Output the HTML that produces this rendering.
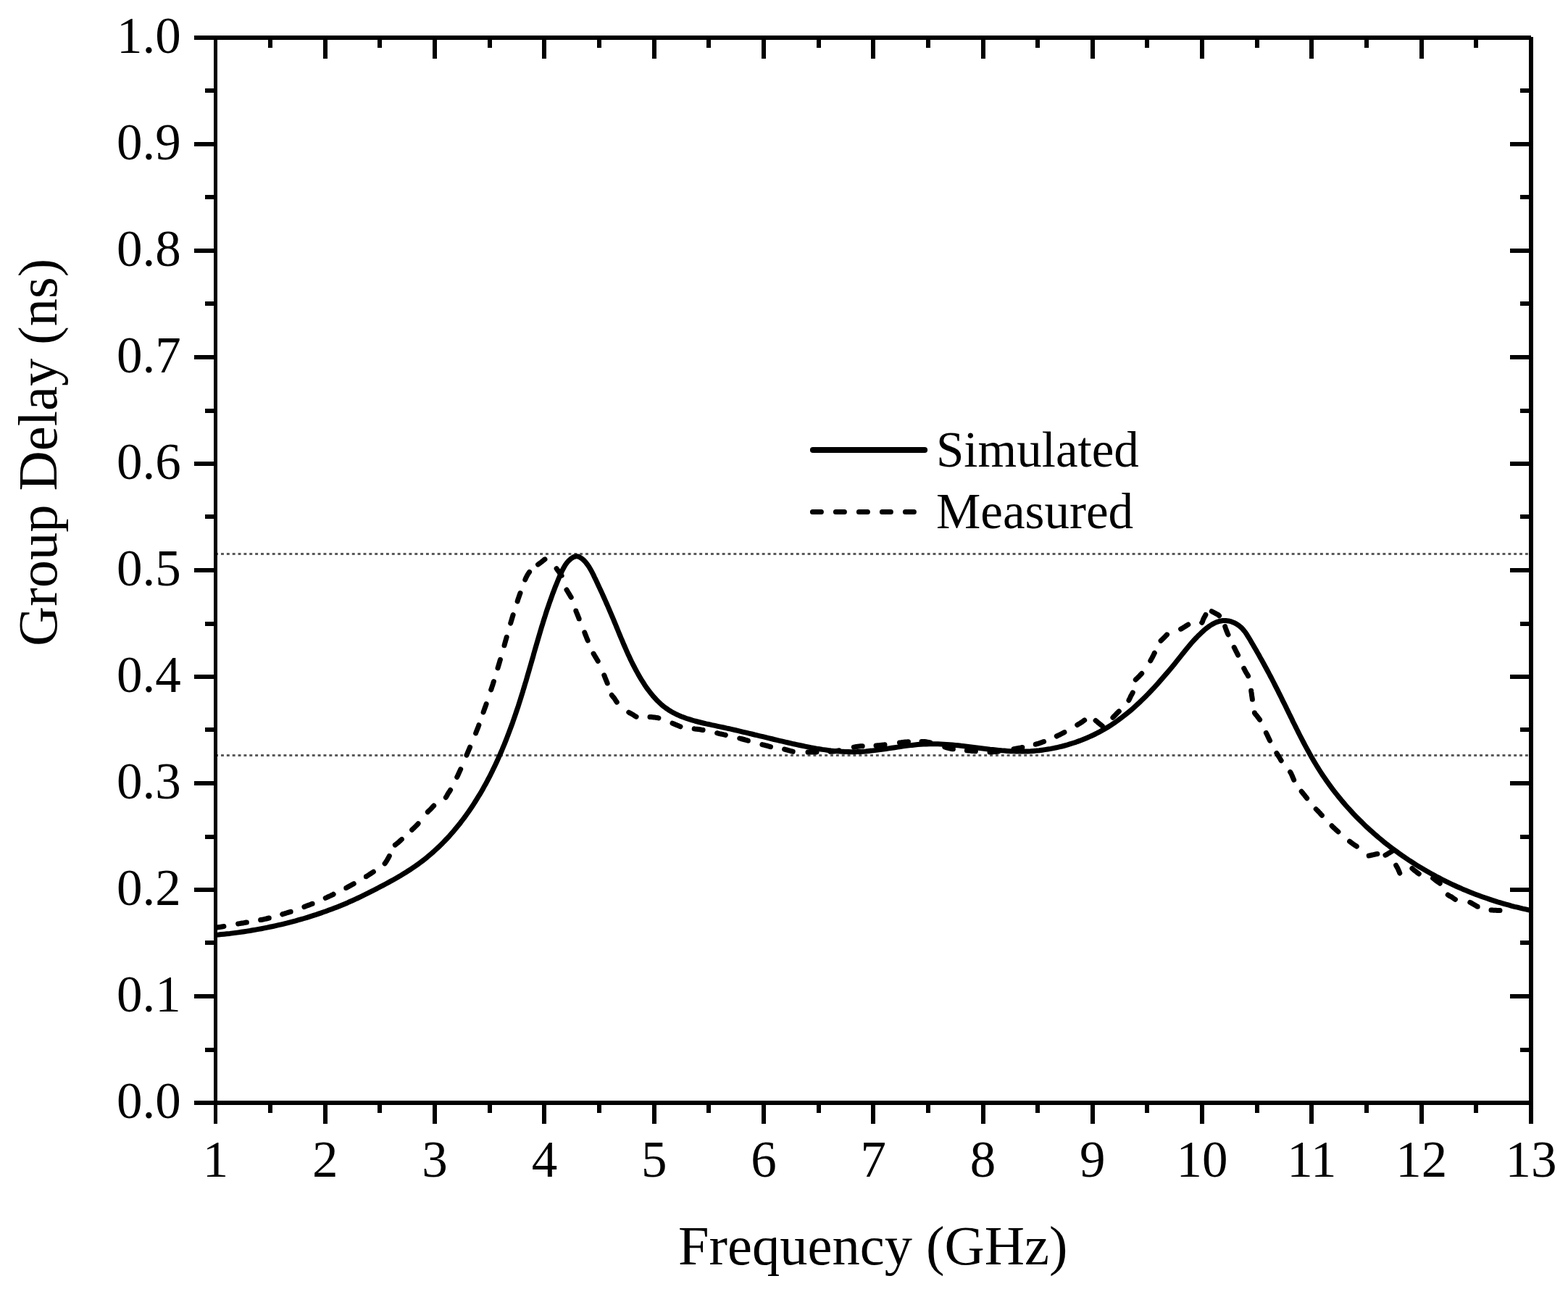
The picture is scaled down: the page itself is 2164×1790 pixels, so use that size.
<!DOCTYPE html><html><head><meta charset="utf-8"><title>Group Delay vs Frequency</title>
<style>html,body{margin:0;padding:0;background:#fff;overflow:hidden;width:2164px;height:1790px;}svg{display:block;}text{font-family:"Liberation Serif","Times New Roman",Times,serif;fill:#000;}</style></head><body>
<svg width="2164" height="1790" viewBox="0 0 2164 1790">
<rect x="0" y="0" width="2164" height="1790" fill="#fff"/>
<line x1="297.14" y1="764.5" x2="2110" y2="764.5" stroke="#5a5a5a" stroke-width="3" stroke-dasharray="3.93 3.93"/>
<line x1="297.14" y1="1042.5" x2="2110" y2="1042.5" stroke="#5a5a5a" stroke-width="3" stroke-dasharray="3.93 3.93"/>
<defs><clipPath id="pc"><rect x="295" y="55" width="1821" height="1464"/></clipPath></defs><g clip-path="url(#pc)">
<path d="M297.7 1290.3L301.6 1290.0 305.5 1289.6 309.4 1289.2 313.3 1288.8 317.2 1288.4 321.2 1287.9 325.1 1287.4 329.0 1286.9 333.0 1286.3 337.0 1285.7 340.9 1285.1 344.9 1284.5 348.8 1283.8 352.8 1283.1 356.8 1282.4 360.7 1281.7 364.7 1280.9 368.7 1280.1 372.6 1279.3 376.6 1278.5 380.5 1277.6 384.5 1276.7 388.4 1275.8 392.4 1274.8 396.3 1273.9 400.2 1272.8 404.1 1271.8 408.0 1270.8 411.9 1269.7 415.8 1268.6 419.7 1267.5 423.6 1266.3 427.4 1265.1 431.2 1263.9 435.1 1262.7 438.9 1261.4 442.7 1260.1 446.4 1258.8 450.2 1257.5 453.9 1256.1 457.7 1254.7 461.4 1253.3 465.0 1251.9 468.7 1250.4 472.3 1248.9 476.0 1247.4 479.6 1245.9 483.1 1244.3 486.7 1242.7 490.2 1241.1 493.7 1239.5 497.2 1237.8 500.7 1236.1 504.2 1234.4 507.7 1232.7 511.2 1230.9 514.7 1229.1 518.2 1227.4 521.7 1225.5 525.2 1223.7 528.7 1221.9 532.2 1220.0 535.7 1218.1 539.2 1216.2 542.8 1214.2 546.3 1212.2 549.7 1210.2 553.2 1208.2 556.7 1206.1 560.1 1204.0 563.5 1201.8 566.8 1199.7 570.2 1197.4 573.5 1195.2 576.7 1192.9 579.9 1190.5 583.1 1188.1 586.2 1185.7 589.3 1183.2 592.3 1180.6 595.3 1178.1 598.3 1175.5 601.2 1172.8 604.1 1170.1 606.9 1167.4 609.7 1164.7 612.5 1161.9 615.2 1159.0 617.9 1156.2 620.6 1153.3 623.2 1150.3 625.8 1147.4 628.3 1144.3 630.8 1141.3 633.3 1138.2 635.7 1135.2 638.1 1132.0 640.5 1128.9 642.8 1125.7 645.1 1122.5 647.4 1119.2 649.6 1116.0 651.8 1112.7 654.0 1109.3 656.1 1106.0 658.2 1102.6 660.3 1099.2 662.4 1095.8 664.4 1092.4 666.4 1088.9 668.3 1085.4 670.3 1081.9 672.2 1078.4 674.0 1074.9 675.9 1071.3 677.7 1067.7 679.5 1064.1 681.2 1060.5 683.0 1056.9 684.7 1053.2 686.4 1049.6 688.0 1045.9 689.7 1042.2 691.3 1038.5 692.9 1034.8 694.4 1031.1 696.0 1027.4 697.5 1023.6 699.0 1019.9 700.4 1016.1 701.9 1012.3 703.3 1008.6 704.7 1004.8 706.1 1001.0 707.5 997.2 708.8 993.4 710.1 989.6 711.4 985.8 712.7 982.0 714.0 978.1 715.3 974.3 716.5 970.5 717.7 966.7 718.9 962.9 720.1 959.0 721.3 955.2 722.4 951.4 723.6 947.6 724.7 943.8 725.9 940.0 727.0 936.1 728.1 932.3 729.2 928.5 730.3 924.7 731.4 920.9 732.5 917.1 733.6 913.3 734.7 909.5 735.8 905.7 736.8 901.9 737.9 898.1 739.0 894.3 740.1 890.6 741.2 886.8 742.3 883.0 743.4 879.3 744.5 875.5 745.6 871.8 746.7 868.1 747.8 864.3 749.0 860.6 750.1 856.9 751.3 853.2 752.5 849.5 753.6 845.8 754.8 842.2 756.1 838.5 757.3 834.8 758.6 831.1 759.9 827.5 761.2 823.8 762.5 820.1 763.9 816.5 765.3 812.8 766.7 809.1 768.2 805.5 769.7 801.8 771.2 798.1 772.8 794.4 774.4 790.7 776.1 787.1 778.0 783.5 780.0 780.0 782.3 776.8 784.9 773.8 787.9 771.2 791.3 768.9 795.0 767.6 798.8 768.3 802.4 770.4 805.5 773.0 808.2 775.9 810.6 779.0 812.9 782.3 814.9 785.7 816.8 789.2 818.7 792.8 820.4 796.5 822.2 800.1 823.9 803.8 825.6 807.4 827.3 811.1 829.0 814.7 830.7 818.4 832.3 822.0 834.0 825.7 835.6 829.3 837.2 833.0 838.8 836.6 840.4 840.3 841.9 843.9 843.5 847.6 845.0 851.2 846.6 854.9 848.1 858.6 849.6 862.2 851.1 865.9 852.6 869.5 854.1 873.2 855.6 876.9 857.1 880.5 858.7 884.2 860.2 887.8 861.8 891.5 863.4 895.1 865.0 898.8 866.6 902.4 868.3 906.0 870.0 909.7 871.7 913.3 873.5 916.9 875.4 920.5 877.2 924.0 879.2 927.6 881.2 931.2 883.2 934.7 885.3 938.2 887.5 941.7 889.7 945.2 892.0 948.6 894.4 951.9 896.9 955.1 899.4 958.3 902.0 961.4 904.7 964.4 907.4 967.3 910.3 970.0 913.2 972.7 916.3 975.2 919.4 977.5 922.6 979.7 925.9 981.8 929.3 983.7 932.8 985.5 936.3 987.1 940.0 988.7 943.6 990.1 947.4 991.5 951.2 992.7 955.0 993.9 958.9 995.0 962.8 996.0 966.7 997.0 970.7 998.0 974.6 998.9 978.6 999.7 982.6 1000.6 986.6 1001.4 990.6 1002.3 994.5 1003.1 998.5 1004.0 1002.4 1004.9 1006.4 1005.7 1010.3 1006.6 1014.2 1007.5 1018.1 1008.4 1022.0 1009.3 1025.9 1010.3 1029.7 1011.2 1033.6 1012.1 1037.5 1013.0 1041.3 1014.0 1045.2 1014.9 1049.0 1015.8 1052.9 1016.7 1056.8 1017.7 1060.6 1018.6 1064.5 1019.5 1068.3 1020.5 1072.2 1021.4 1076.1 1022.3 1079.9 1023.2 1083.8 1024.1 1087.7 1025.0 1091.6 1025.9 1095.5 1026.8 1099.4 1027.6 1103.4 1028.5 1107.3 1029.3 1111.2 1030.1 1115.2 1030.9 1119.1 1031.7 1123.1 1032.4 1127.0 1033.1 1131.0 1033.7 1135.0 1034.4 1139.0 1034.9 1142.9 1035.5 1146.9 1036.0 1150.9 1036.4 1154.9 1036.8 1158.9 1037.1 1162.9 1037.3 1166.9 1037.5 1170.9 1037.6 1174.9 1037.7 1178.9 1037.7 1182.8 1037.6 1186.8 1037.4 1190.8 1037.2 1194.8 1036.9 1198.8 1036.5 1202.8 1036.1 1206.8 1035.6 1210.8 1035.1 1214.8 1034.6 1218.7 1034.0 1222.7 1033.5 1226.7 1032.9 1230.7 1032.3 1234.7 1031.7 1238.7 1031.1 1242.6 1030.5 1246.6 1029.9 1250.6 1029.4 1254.6 1028.9 1258.6 1028.4 1262.6 1028.0 1266.5 1027.6 1270.5 1027.3 1274.5 1027.0 1278.5 1026.9 1282.5 1026.7 1286.5 1026.7 1290.5 1026.7 1294.5 1026.8 1298.4 1027.0 1302.4 1027.2 1306.4 1027.4 1310.4 1027.7 1314.4 1028.0 1318.4 1028.4 1322.4 1028.8 1326.4 1029.3 1330.4 1029.7 1334.4 1030.2 1338.3 1030.7 1342.3 1031.2 1346.3 1031.7 1350.3 1032.2 1354.3 1032.7 1358.3 1033.2 1362.3 1033.7 1366.3 1034.2 1370.3 1034.6 1374.3 1035.0 1378.3 1035.4 1382.3 1035.8 1386.3 1036.1 1390.3 1036.4 1394.3 1036.7 1398.3 1036.8 1402.2 1037.0 1406.2 1037.0 1410.2 1037.1 1414.2 1037.0 1418.2 1036.9 1422.2 1036.7 1426.2 1036.4 1430.2 1036.1 1434.2 1035.7 1438.1 1035.2 1442.1 1034.6 1446.1 1034.0 1450.0 1033.4 1453.9 1032.6 1457.9 1031.8 1461.8 1030.9 1465.7 1030.0 1469.5 1029.0 1473.4 1027.9 1477.2 1026.7 1481.0 1025.5 1484.8 1024.3 1488.6 1022.9 1492.4 1021.5 1496.1 1020.0 1499.8 1018.5 1503.4 1016.9 1507.1 1015.2 1510.7 1013.5 1514.3 1011.7 1517.8 1009.8 1521.3 1007.9 1524.8 1005.9 1528.3 1003.9 1531.7 1001.8 1535.0 999.6 1538.4 997.3 1541.7 995.0 1544.9 992.7 1548.1 990.3 1551.3 987.8 1554.5 985.3 1557.6 982.8 1560.7 980.2 1563.7 977.6 1566.7 974.9 1569.7 972.2 1572.7 969.4 1575.6 966.6 1578.5 963.8 1581.3 961.0 1584.1 958.1 1586.9 955.2 1589.7 952.3 1592.5 949.3 1595.2 946.4 1597.9 943.4 1600.5 940.4 1603.1 937.4 1605.7 934.4 1608.3 931.4 1610.9 928.4 1613.4 925.4 1615.9 922.4 1618.4 919.4 1620.9 916.4 1623.3 913.4 1625.7 910.4 1628.1 907.4 1630.5 904.4 1632.8 901.4 1635.2 898.5 1637.6 895.6 1640.0 892.6 1642.4 889.7 1644.9 886.8 1647.5 883.9 1650.2 881.0 1653.0 878.1 1656.0 875.2 1659.0 872.3 1662.2 869.4 1665.5 866.7 1669.0 864.1 1672.5 861.9 1676.2 859.9 1679.9 858.3 1683.7 857.2 1687.6 856.5 1691.6 856.5 1695.5 856.9 1699.4 857.9 1703.2 859.4 1706.8 861.3 1710.1 863.6 1713.2 866.2 1715.9 869.2 1718.5 872.4 1720.8 875.8 1723.0 879.3 1725.1 882.8 1727.2 886.4 1729.3 890.0 1731.3 893.5 1733.4 897.0 1735.4 900.6 1737.4 904.1 1739.3 907.6 1741.3 911.1 1743.2 914.5 1745.1 918.0 1747.0 921.5 1748.9 925.0 1750.8 928.5 1752.6 932.0 1754.5 935.5 1756.3 939.0 1758.1 942.5 1759.9 946.1 1761.7 949.6 1763.5 953.1 1765.2 956.7 1767.0 960.2 1768.8 963.8 1770.5 967.4 1772.3 970.9 1774.1 974.5 1775.8 978.1 1777.6 981.7 1779.3 985.3 1781.1 988.9 1782.9 992.5 1784.6 996.2 1786.4 999.8 1788.2 1003.4 1790.0 1007.0 1791.8 1010.6 1793.6 1014.2 1795.5 1017.8 1797.3 1021.4 1799.2 1025.0 1801.1 1028.6 1803.0 1032.1 1805.0 1035.7 1806.9 1039.2 1808.9 1042.7 1810.9 1046.2 1812.9 1049.7 1815.0 1053.2 1817.1 1056.7 1819.2 1060.1 1821.3 1063.5 1823.5 1066.9 1825.7 1070.2 1828.0 1073.5 1830.2 1076.8 1832.5 1080.1 1834.9 1083.4 1837.3 1086.6 1839.7 1089.8 1842.1 1093.0 1844.6 1096.1 1847.1 1099.2 1849.6 1102.3 1852.1 1105.4 1854.7 1108.4 1857.3 1111.5 1860.0 1114.5 1862.7 1117.4 1865.4 1120.4 1868.1 1123.3 1870.8 1126.2 1873.6 1129.0 1876.4 1131.8 1879.3 1134.6 1882.1 1137.4 1885.0 1140.2 1887.9 1142.9 1890.9 1145.6 1893.8 1148.2 1896.8 1150.9 1899.9 1153.5 1902.9 1156.1 1906.0 1158.6 1909.0 1161.2 1912.1 1163.7 1915.3 1166.1 1918.4 1168.6 1921.6 1171.0 1924.8 1173.4 1928.0 1175.7 1931.3 1178.1 1934.5 1180.4 1937.8 1182.7 1941.1 1184.9 1944.4 1187.1 1947.8 1189.3 1951.2 1191.5 1954.5 1193.6 1957.9 1195.7 1961.4 1197.8 1964.8 1199.8 1968.2 1201.8 1971.7 1203.8 1975.2 1205.8 1978.7 1207.7 1982.2 1209.6 1985.8 1211.4 1989.3 1213.3 1992.9 1215.1 1996.5 1216.9 2000.1 1218.6 2003.7 1220.3 2007.3 1222.0 2011.0 1223.7 2014.6 1225.3 2018.3 1226.9 2022.0 1228.4 2025.7 1230.0 2029.4 1231.5 2033.1 1232.9 2036.9 1234.4 2040.6 1235.8 2044.4 1237.2 2048.1 1238.5 2051.9 1239.8 2055.7 1241.1 2059.5 1242.4 2063.3 1243.6 2067.1 1244.8 2070.9 1245.9 2074.8 1247.1 2078.6 1248.2 2082.5 1249.2 2086.3 1250.3 2090.2 1251.3 2094.1 1252.2 2097.9 1253.2 2101.8 1254.1 2105.7 1254.9 2109.6 1255.8 2113.5 1256.6" fill="none" stroke="#000" stroke-width="7" stroke-linejoin="round" stroke-linecap="round"/>
<path d="M297.5 1280.3L298.5 1280.1 299.6 1280.0 300.6 1279.8 301.6 1279.7 302.7 1279.5 303.7 1279.4 304.8 1279.2 306.0 1279.0 307.6 1278.7 308.9 1278.5M328.6 1275.0L329.0 1274.9 330.8 1274.6 332.7 1274.3 334.5 1274.0 336.4 1273.7 338.3 1273.3 340.3 1273.0 340.4 1273.0M359.6 1269.6L359.7 1269.6 361.7 1269.2 363.6 1268.8 365.5 1268.4 367.4 1268.0 369.3 1267.5 371.2 1267.0 371.3 1267.0M389.8 1261.8L389.9 1261.7 391.8 1261.2 393.6 1260.6 395.5 1260.0 397.4 1259.4 399.3 1258.8 401.1 1258.2 401.2 1258.2M419.9 1251.6L419.9 1251.6 421.8 1250.8 423.6 1250.1 425.5 1249.4 427.3 1248.7 429.1 1248.0 431.0 1247.2 431.1 1247.2M449.2 1239.4L451.0 1238.6 452.8 1237.7 454.6 1236.9 456.4 1236.1 458.2 1235.2 460.0 1234.4 460.1 1234.3M477.7 1225.4L477.8 1225.4 479.5 1224.4 481.3 1223.5 483.0 1222.5 484.8 1221.6 486.5 1220.6 488.3 1219.7 488.3 1219.7M505.3 1209.7L505.4 1209.7 507.1 1208.6 508.7 1207.6 510.2 1206.6 511.5 1205.8 512.8 1204.9 514.0 1204.1 515.2 1203.3 515.4 1203.2M531.1 1191.7L531.2 1191.6 532.3 1190.1 533.4 1188.5 534.4 1186.8 535.4 1185.1 536.3 1183.3 537.2 1181.6 537.3 1181.4M545.3 1166.1L546.1 1165.5 547.1 1164.7 548.1 1164.0 549.0 1163.2 550.0 1162.4 550.9 1161.6 551.9 1160.7 552.8 1159.8 553.7 1159.0 554.4 1158.4M568.6 1145.2L569.3 1144.5 570.2 1143.7 571.2 1142.8 572.1 1141.9 573.0 1141.0 573.9 1140.1 574.8 1139.2 575.7 1138.3 576.6 1137.4 577.1 1136.7M590.3 1120.6L590.6 1120.2 591.6 1119.3 592.5 1118.4 593.5 1117.5 594.4 1116.6 595.3 1115.6 596.2 1114.7 597.1 1113.7 598.0 1112.7 598.7 1112.0M615.3 1100.5L615.4 1100.3 616.0 1099.5 616.5 1098.6 617.0 1097.7 617.5 1096.8 618.0 1095.9 618.5 1095.0 619.1 1094.2 619.6 1093.3 620.1 1092.6 620.7 1091.8 621.2 1090.9 621.6 1090.3M630.7 1072.5L631.9 1070.0 633.2 1067.1 634.8 1063.6 635.7 1061.6M644.0 1042.2L644.7 1040.5 646.3 1036.7 647.9 1032.9 648.6 1031.2M656.6 1011.9L657.3 1010.1 658.8 1006.3 660.2 1002.7 660.9 1000.7M667.1 983.0L667.8 980.9 669.1 977.3 670.4 973.7 671.1 971.6M677.7 951.9L677.8 951.7 679.0 948.0 680.3 944.1 681.4 940.5M687.0 922.0L687.6 920.0 688.8 916.0 689.9 912.1 690.4 910.4M696.0 890.8L696.5 888.9 697.6 885.0 698.7 881.1 699.2 879.3M704.7 860.1L705.4 857.8 706.5 854.0 707.6 850.2 708.1 848.6M714.1 829.9L714.7 827.9 716.0 824.2 717.3 820.4 718.0 818.5M724.8 800.0L725.9 797.4 727.4 794.5 728.3 792.9 729.3 791.4 730.2 790.1 730.6 789.5M742.5 779.1L742.8 778.9 743.5 778.4 744.3 777.8 745.0 777.2 745.8 776.7 746.5 776.1 747.3 775.6 748.0 775.0 748.8 774.4 749.5 773.8 750.3 773.2 751.0 772.5 751.8 771.9 752.0 771.8M768.1 784.7L768.1 784.7 768.7 785.6 769.2 786.4 769.8 787.1 770.4 787.9 770.9 788.7 771.5 789.5 772.1 790.3 772.6 791.0 773.2 791.8 773.8 792.5 774.4 793.3 774.9 794.1 775.1 794.4M782.0 814.0L782.5 814.9 783.0 815.7 783.5 816.5 784.0 817.3 784.5 818.1 785.0 819.0 785.5 819.9 786.0 820.7 786.5 821.5 787.0 822.3 787.5 823.1 788.0 824.0 788.2 824.3M794.8 843.0L794.8 843.1 795.2 844.0 795.5 844.9 795.9 845.8 796.3 846.7 796.6 847.6 797.0 848.5 797.4 849.4 797.7 850.3 798.1 851.2 798.4 852.1 798.8 853.0 799.2 853.9 799.2 854.1M806.8 872.9L807.5 874.8 808.2 876.7 809.0 878.5 809.7 880.4 810.5 882.3 811.2 884.1M819.1 902.1L819.5 902.8 820.0 903.7 820.5 904.5 821.0 905.3 821.5 906.1 822.0 907.0 822.5 907.9 823.0 908.7 823.5 909.5 824.0 910.3 824.5 911.1 825.0 912.0 825.2 912.4M833.8 931.9L833.9 932.1 834.2 933.0 834.6 933.9 834.9 934.8 835.3 935.7 835.6 936.6 836.0 937.5 836.4 938.4 836.7 939.3 837.1 940.2 837.5 941.1 837.8 942.0 838.2 943.0 838.2 943.0M844.3 959.3L844.6 959.7 845.1 960.5 845.7 961.2 846.3 961.9 846.9 962.6 847.5 963.3 848.0 964.0 848.5 964.7 849.0 965.5 849.5 966.3 849.9 967.0 850.4 967.8 850.9 968.5 851.3 969.0M867.8 983.1L868.6 983.6 869.5 984.1 870.4 984.5 871.2 985.0 872.1 985.5 873.0 986.0 873.9 986.5 874.7 987.1 875.6 987.7 876.4 988.3 877.3 988.8 878.1 989.2M897.0 989.5L898.0 989.6 899.0 989.6 900.0 989.7 901.0 989.8 902.0 989.9 903.0 990.0 904.0 990.1 905.0 990.3 905.9 990.4 906.9 990.6 907.9 990.7 908.9 991.0 908.9 991.0M928.0 998.2L928.8 998.5 930.0 999.0 931.2 999.5 932.3 1000.0 933.5 1000.5 934.7 1001.0 935.8 1001.4 936.9 1001.9 938.0 1002.4 939.0 1002.8M958.2 1005.8L958.8 1005.9 961.5 1006.2 964.0 1006.5 966.1 1006.8 968.2 1007.2 970.1 1007.5M989.6 1011.7L991.2 1012.1 993.1 1012.6 995.0 1013.0 997.0 1013.4 999.0 1013.9 1001.0 1014.3 1001.3 1014.4M1020.8 1019.0L1022.6 1019.5 1024.6 1020.0 1026.5 1020.5 1028.4 1021.0 1030.4 1021.6 1032.3 1022.2 1032.4 1022.2M1051.9 1027.6L1052.3 1027.7 1054.3 1028.1 1056.0 1028.6 1057.6 1029.0 1058.4 1029.2 1059.1 1029.4 1059.7 1029.6 1060.3 1029.8 1060.9 1030.0 1061.5 1030.1 1062.2 1030.3 1063.0 1030.5 1063.5 1030.6M1082.6 1034.1L1083.2 1034.3 1084.2 1034.5 1085.1 1034.8 1086.1 1035.0 1087.0 1035.3 1088.0 1035.5 1089.0 1035.8 1089.9 1036.0 1090.8 1036.3 1091.7 1036.6 1092.7 1036.8 1093.7 1037.1 1094.2 1037.2M1115.0 1038.1L1117.7 1038.0 1121.0 1038.0 1124.8 1038.0 1127.0 1037.9M1146.1 1037.3L1148.5 1037.2 1152.0 1036.8 1154.5 1036.4 1156.9 1036.0 1158.0 1035.8M1178.3 1031.2L1178.7 1031.1 1180.5 1030.8 1182.2 1030.5 1184.0 1030.2 1185.9 1030.0 1187.9 1029.8 1189.9 1029.7 1190.2 1029.7M1209.0 1028.9L1209.4 1028.9 1211.2 1028.8 1213.1 1028.7 1215.0 1028.5 1217.0 1028.3 1219.0 1028.1 1221.0 1027.8 1221.0 1027.8M1241.5 1024.9L1243.4 1024.7 1245.5 1024.4 1247.5 1024.2 1249.3 1024.0 1251.2 1023.9 1253.0 1023.8 1253.5 1023.8M1272.0 1023.4L1274.0 1023.5 1276.0 1023.6 1278.0 1023.8 1280.0 1024.1 1282.0 1024.4 1283.9 1024.8M1303.8 1030.9L1305.6 1031.6 1307.5 1032.2 1309.5 1032.7 1311.4 1033.1 1313.4 1033.5 1315.3 1033.8 1315.4 1033.8M1334.4 1035.8L1336.3 1035.9 1338.1 1036.1 1340.0 1036.2 1341.9 1036.4 1343.7 1036.5 1345.6 1036.7 1346.4 1036.8M1366.0 1037.9L1366.2 1037.9 1368.1 1037.9 1370.0 1037.8 1372.2 1037.6 1374.4 1037.4 1376.7 1037.2 1377.9 1037.0M1399.1 1033.7L1400.8 1033.4 1402.9 1033.0 1405.0 1032.6 1406.9 1032.2 1408.8 1031.9 1410.7 1031.5 1410.9 1031.5M1429.2 1027.2L1429.4 1027.2 1431.3 1026.6 1433.2 1026.1 1435.0 1025.5 1436.8 1024.9 1438.5 1024.3 1440.3 1023.6 1440.6 1023.5M1458.3 1016.0L1460.1 1015.1 1461.9 1014.3 1463.7 1013.4 1465.4 1012.5 1467.1 1011.6 1468.7 1010.7 1469.0 1010.6M1486.7 1000.5L1488.3 999.5 1490.0 998.5 1491.6 997.5 1492.7 996.8 1493.7 996.1 1494.6 995.4 1495.5 994.8 1496.4 994.1 1496.7 993.9M1512.1 994.4L1512.6 994.9 1513.5 995.6 1514.4 996.3 1515.3 997.1 1516.1 997.8 1517.0 998.5 1517.9 999.2 1518.8 999.9 1519.7 1000.7 1520.6 1001.4 1521.3 1002.0M1535.9 990.3L1536.4 989.7 1537.3 988.8 1538.2 987.8 1539.1 986.9 1540.0 986.0 1540.8 985.2 1541.5 984.4 1542.3 983.7 1543.0 982.9 1543.8 982.2 1544.3 981.7M1557.9 966.5L1558.0 966.3 1558.4 965.4 1558.8 964.6 1559.3 963.7 1559.7 962.8 1560.1 961.9 1560.5 961.0 1560.9 960.1 1561.4 959.3 1561.9 958.5 1562.4 957.7 1562.8 956.8 1563.2 956.0 1563.3 955.8M1567.3 938.1L1567.8 937.5 1568.5 936.8 1569.3 936.1 1570.0 935.4 1570.8 934.7 1571.5 934.0 1572.2 933.3 1572.9 932.5 1573.6 931.8 1574.2 931.1 1574.9 930.4 1575.6 929.6 1575.7 929.5M1587.8 911.9L1588.4 910.8 1589.2 909.2 1590.1 907.7 1591.0 906.0 1592.1 903.8 1593.2 901.3 1593.3 901.2M1602.1 884.3L1602.4 884.0 1603.2 883.2 1604.0 882.4 1604.8 881.6 1605.7 880.8 1606.5 880.0 1607.3 879.2 1608.1 878.4 1608.9 877.5 1609.7 876.7 1610.5 876.0 1610.6 875.8M1629.6 868.2L1629.8 868.1 1630.7 867.6 1631.6 867.1 1632.4 866.6 1633.3 866.0 1634.1 865.5 1635.0 865.0 1635.9 864.5 1636.7 863.9 1637.6 863.4 1638.4 862.8 1639.3 862.3 1639.8 862.0M1658.7 859.3L1659.0 858.9 1659.4 858.2 1659.7 857.4 1660.0 856.5 1660.3 855.7 1660.6 854.8 1661.0 854.0 1661.4 853.2 1661.9 852.3 1662.3 851.5 1662.8 850.6 1663.3 849.8 1663.7 848.9 1663.9 848.5M1672.3 843.7L1672.6 843.8 1673.2 844.2 1673.9 844.6 1674.6 844.9 1675.3 845.3 1676.1 845.7 1676.8 846.1 1677.5 846.5 1678.2 846.9 1678.9 847.2 1679.6 847.6 1680.3 848.0 1681.0 848.4 1681.7 848.8 1682.3 849.4 1682.6 849.7M1690.7 864.6L1690.8 864.9 1691.1 865.8 1691.3 866.6 1691.6 867.5 1691.9 868.3 1692.2 869.1 1692.5 870.0 1692.9 870.9 1693.2 871.7 1693.6 872.6 1694.0 873.5 1694.3 874.3 1694.7 875.2 1695.0 875.8M1703.2 893.4L1703.4 893.8 1703.8 894.6 1704.2 895.3 1704.5 896.1 1704.9 896.8 1705.3 897.5 1705.6 898.3 1706.0 899.0 1706.4 899.7 1706.7 900.4 1707.1 901.1 1707.4 901.8 1707.8 902.5 1708.2 903.3 1708.6 904.1M1716.7 922.4L1716.9 922.9 1717.4 923.7 1717.8 924.6 1718.2 925.3 1718.6 926.1 1719.1 926.9 1719.5 927.7 1719.9 928.5 1720.4 929.2 1720.9 929.9 1721.3 930.6 1721.8 931.4 1722.2 932.2 1722.6 932.9M1726.7 953.3L1726.8 954.1 1726.9 955.0 1727.1 955.9 1727.2 956.7 1727.3 957.6 1727.4 958.4 1727.5 959.3 1727.6 960.1 1727.7 960.9 1727.9 961.7 1728.0 962.5 1728.1 963.3 1728.2 964.1 1728.4 965.0 1728.4 965.2M1731.4 983.8L1731.4 983.9 1731.9 984.7 1732.4 985.4 1732.9 986.0 1733.4 986.6 1734.0 987.2 1734.5 987.8 1735.0 988.5 1735.5 989.2 1736.0 989.8 1736.4 990.4 1736.9 991.0 1737.4 991.6 1737.9 992.3 1738.4 993.1 1738.6 993.3M1747.4 1011.4L1748.7 1014.1 1750.0 1016.8 1750.9 1018.7 1751.8 1020.6 1752.6 1022.2M1761.9 1039.4L1761.9 1039.4 1763.0 1041.1 1764.0 1042.8 1765.0 1044.4 1766.0 1046.0 1767.0 1047.6 1767.9 1049.3 1768.2 1049.7M1780.6 1065.5L1781.0 1066.0 1781.8 1067.3 1782.4 1068.7 1783.1 1070.1 1783.6 1071.5 1784.2 1072.9 1784.8 1074.3 1785.4 1075.7 1785.7 1076.4M1796.2 1092.3L1796.5 1092.7 1797.0 1093.3 1797.5 1093.9 1798.0 1094.6 1798.5 1095.2 1799.0 1095.8 1799.5 1096.4 1800.0 1097.0 1800.5 1097.6 1801.0 1098.2 1801.4 1098.8 1801.9 1099.4 1802.4 1100.0 1802.9 1100.6 1803.4 1101.3 1803.7 1101.7M1816.2 1116.6L1817.2 1117.6 1818.3 1118.7 1819.4 1119.8 1820.5 1121.0 1821.8 1122.4 1823.0 1123.8 1824.3 1125.2 1824.4 1125.3M1838.1 1139.8L1839.5 1141.2 1841.0 1142.6 1842.5 1144.0 1844.0 1145.4 1845.6 1146.8 1846.9 1148.0M1862.6 1161.2L1862.9 1161.4 1864.5 1162.6 1866.0 1163.7 1867.4 1164.8 1868.4 1165.5 1869.5 1166.2 1870.4 1166.8 1871.4 1167.4 1872.3 1168.0 1872.4 1168.1M1889.2 1181.0L1889.7 1180.9 1890.7 1180.7 1891.6 1180.5 1892.6 1180.2 1893.6 1180.0 1894.5 1179.8 1895.5 1179.6 1896.4 1179.4 1897.4 1179.2 1898.4 1178.9 1899.4 1178.7 1900.3 1178.6 1900.9 1178.5M1911.9 1180.2L1912.6 1179.9 1913.4 1179.5 1914.2 1179.0 1915.0 1178.5 1915.9 1177.9 1916.7 1177.4 1917.5 1177.0 1918.3 1176.5 1919.2 1176.0 1920.1 1175.4 1921.0 1174.8 1921.9 1174.3 1922.2 1174.2M1926.6 1194.1L1927.0 1195.0 1927.7 1196.1 1928.3 1197.2 1928.9 1198.3 1929.5 1199.5 1930.0 1200.7 1930.6 1202.0 1931.1 1203.3 1931.6 1204.6 1931.8 1205.0M1948.9 1198.5L1949.8 1199.2 1951.0 1200.4 1952.3 1201.5 1953.5 1202.4 1954.7 1203.2 1955.9 1204.2 1957.1 1205.1 1958.3 1206.0M1977.6 1212.0L1978.3 1212.5 1979.1 1213.1 1979.8 1213.7 1980.5 1214.3 1981.3 1214.9 1982.0 1215.5 1982.7 1216.0 1983.5 1216.5 1984.2 1217.0 1985.0 1217.5 1985.7 1218.0 1986.5 1218.6 1987.2 1219.2M1998.2 1235.0L1998.6 1235.3 1999.4 1235.8 2000.2 1236.3 2001.0 1236.7 2001.9 1237.1 2002.7 1237.5 2003.5 1238.0 2004.3 1238.5 2005.1 1239.1 2005.9 1239.6 2006.6 1240.2 2007.4 1240.7 2008.3 1241.2 2008.4 1241.3M2028.8 1245.3L2028.8 1245.3 2029.6 1245.7 2030.4 1246.1 2031.1 1246.6 2031.8 1247.0 2032.5 1247.4 2033.3 1247.9 2034.0 1248.3 2034.7 1248.7 2035.5 1249.1 2036.2 1249.5 2036.9 1249.9 2037.6 1250.4 2038.4 1250.8 2039.2 1251.1 2039.2 1251.2M2058.0 1255.9L2059.0 1256.0 2059.7 1256.1 2060.3 1256.1 2061.0 1256.2 2061.6 1256.2 2062.2 1256.2 2062.8 1256.2 2063.4 1256.3 2064.0 1256.3 2064.6 1256.3 2065.2 1256.4 2065.8 1256.4 2066.4 1256.4 2067.0 1256.5 2067.6 1256.5 2068.3 1256.5 2069.0 1256.5 2070.0 1256.5" fill="none" stroke="#000" stroke-width="7" stroke-linejoin="round" stroke-linecap="round"/>
</g>
<path d="M446 1525h6v26h-6zM597 1525h6v26h-6zM748 1525h6v26h-6zM900 1525h6v26h-6zM1051 1525h6v26h-6zM1202 1525h6v26h-6zM1354 1525h6v26h-6zM1505 1525h6v26h-6zM1656 1525h6v26h-6zM1807 1525h6v26h-6zM1959 1525h6v26h-6zM2110 1525h6v26h-6zM370 1525h6v11h-6zM521 1525h6v11h-6zM673 1525h6v11h-6zM824 1525h6v11h-6zM975 1525h6v11h-6zM1127 1525h6v11h-6zM1278 1525h6v11h-6zM1429 1525h6v11h-6zM1580 1525h6v11h-6zM1732 1525h6v11h-6zM1883 1525h6v11h-6zM2034 1525h6v11h-6zM446 55h6v26h-6zM597 55h6v26h-6zM748 55h6v26h-6zM900 55h6v26h-6zM1051 55h6v26h-6zM1202 55h6v26h-6zM1354 55h6v26h-6zM1505 55h6v26h-6zM1656 55h6v26h-6zM1807 55h6v26h-6zM1959 55h6v26h-6zM370 55h6v11h-6zM521 55h6v11h-6zM673 55h6v11h-6zM824 55h6v11h-6zM975 55h6v11h-6zM1127 55h6v11h-6zM1278 55h6v11h-6zM1429 55h6v11h-6zM1580 55h6v11h-6zM1732 55h6v11h-6zM1883 55h6v11h-6zM2034 55h6v11h-6zM268 1372h27v6h-27zM2084 1372h26v6h-26zM268 1225h27v6h-27zM2084 1225h26v6h-26zM268 1078h27v6h-27zM2084 1078h26v6h-26zM268 931h27v6h-27zM2084 931h26v6h-26zM268 784h27v6h-27zM2084 784h26v6h-26zM268 637h27v6h-27zM2084 637h26v6h-26zM268 490h27v6h-27zM2084 490h26v6h-26zM268 343h27v6h-27zM2084 343h26v6h-26zM268 196h27v6h-27zM2084 196h26v6h-26zM283 1446h12v6h-12zM2098 1446h12v6h-12zM283 1298h12v6h-12zM2098 1298h12v6h-12zM283 1152h12v6h-12zM2098 1152h12v6h-12zM283 1004h12v6h-12zM2098 1004h12v6h-12zM283 858h12v6h-12zM2098 858h12v6h-12zM283 710h12v6h-12zM2098 710h12v6h-12zM283 564h12v6h-12zM2098 564h12v6h-12zM283 416h12v6h-12zM2098 416h12v6h-12zM283 269h12v6h-12zM2098 269h12v6h-12zM283 122h12v6h-12zM2098 122h12v6h-12z" fill="#000"/>
<rect x="295" y="49" width="5" height="1502" fill="#000"/>
<rect x="2110" y="51" width="6" height="1500" fill="#000"/>
<rect x="268" y="49" width="1845" height="6" fill="#000"/>
<rect x="268" y="1519" width="1848" height="6" fill="#000"/>
<text x="249.7" y="1542.5" font-size="71" text-anchor="end">0.0</text>
<text x="249.7" y="1395.5" font-size="71" text-anchor="end">0.1</text>
<text x="249.7" y="1248.5" font-size="71" text-anchor="end">0.2</text>
<text x="249.7" y="1101.5" font-size="71" text-anchor="end">0.3</text>
<text x="249.7" y="954.5" font-size="71" text-anchor="end">0.4</text>
<text x="249.7" y="807.5" font-size="71" text-anchor="end">0.5</text>
<text x="249.7" y="660.5" font-size="71" text-anchor="end">0.6</text>
<text x="249.7" y="513.5" font-size="71" text-anchor="end">0.7</text>
<text x="249.7" y="366.5" font-size="71" text-anchor="end">0.8</text>
<text x="249.7" y="219.5" font-size="71" text-anchor="end">0.9</text>
<text x="249.7" y="72.5" font-size="71" text-anchor="end">1.0</text>
<text x="297.5" y="1624" font-size="71" text-anchor="middle">1</text>
<text x="448.8" y="1624" font-size="71" text-anchor="middle">2</text>
<text x="600.1" y="1624" font-size="71" text-anchor="middle">3</text>
<text x="751.4" y="1624" font-size="71" text-anchor="middle">4</text>
<text x="902.7" y="1624" font-size="71" text-anchor="middle">5</text>
<text x="1054.0" y="1624" font-size="71" text-anchor="middle">6</text>
<text x="1205.2" y="1624" font-size="71" text-anchor="middle">7</text>
<text x="1356.5" y="1624" font-size="71" text-anchor="middle">8</text>
<text x="1507.8" y="1624" font-size="71" text-anchor="middle">9</text>
<text x="1659.1" y="1624" font-size="71" text-anchor="middle">10</text>
<text x="1810.4" y="1624" font-size="71" text-anchor="middle">11</text>
<text x="1961.7" y="1624" font-size="71" text-anchor="middle">12</text>
<text x="2113.0" y="1624" font-size="71" text-anchor="middle">13</text>
<text x="936" y="1745" font-size="76.5">Frequency (GHz)</text>
<text transform="translate(77.5 624.4) rotate(-90)" x="0" y="0" font-size="76.5" text-anchor="middle">Group Delay (ns)</text>
<line x1="1121.9" y1="621" x2="1276.1" y2="621" stroke="#000" stroke-width="8" stroke-linecap="round"/>
<line x1="1121.4" y1="706.4" x2="1280" y2="706.4" stroke="#000" stroke-width="7" stroke-linecap="round" stroke-dasharray="12 20"/>
<text x="1292" y="644" font-size="69">Simulated</text>
<text x="1292" y="728.7" font-size="69">Measured</text>
</svg></body></html>
